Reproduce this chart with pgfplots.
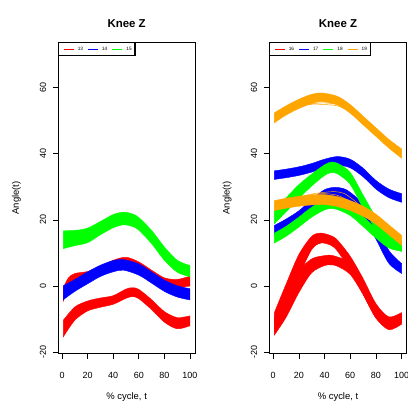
\documentclass[border=0pt]{standalone}
\usepackage{pgfplots}
\pgfplotsset{compat=1.18}
\usepgfplotslibrary{fillbetween}
\usepackage{fontspec}
\setmainfont{Liberation Sans}
\definecolor{cR}{HTML}{FF0000}
\definecolor{cB}{HTML}{0000FF}
\definecolor{cG}{HTML}{00FF00}
\definecolor{cO}{HTML}{FFA500}
\newcommand{\band}[4]{%
  \addplot[name path=#2U, draw=none, smooth, forget plot] coordinates {#3};
  \addplot[name path=#2L, draw=none, smooth, forget plot] coordinates {#4};
  \addplot[fill=#1, draw=#1, line width=0.4bp, forget plot] fill between[of=#2U and #2L];
}
\newcommand{\legline}[2]{%
  \addlegendimage{legend image code/.code={\path (-2bp,0bp) (12.5bp,0bp); \fill[fill=#1, draw=none] (0bp,-0.45bp) rectangle (10bp,0.45bp);}}
  \addlegendentry{#2}
}
\pgfplotsset{
  kneeaxis/.style={
    scale only axis, width=136.7bp, height=311bp,
    xmin=-2.96, xmax=103.96, ymin=-20.3, ymax=73.6,
    xtick={0,20,40,60,80,100}, ytick={-20,0,20,40,60},
    tick pos=left,
    tick align=outside, major tick length=5.5bp,
    axis line style={line width=0.8bp},
    every tick/.style={black, line width=0.6bp},
    /pgf/number format/assume math mode=true,
    tick label style={font=\fontsize{9}{10}\selectfont},
    xticklabel style={anchor=north, inner sep=0pt},
    yticklabel style={rotate=90, anchor=south, inner sep=0pt},
    xticklabel shift=13.5bp, yticklabel shift=6.5bp,
    label style={font=\fontsize{9.5}{11}\selectfont},
    xlabel={\% cycle, t}, ylabel={Angle(t)},
    xlabel style={at={(axis description cs:0.5,-0.148)}, anchor=base},
    ylabel style={at={(axis description cs:-0.288,0.5)}, anchor=base},
    title={Knee Z},
    every axis title shift=0pt,
    title style={at={(axis description cs:0.5,1.048)}, anchor=base, yshift=0pt, font=\fontsize{11.5}{13}\selectfont\bfseries},
    legend columns=-1,
    legend style={at={(0,1)}, anchor=north west, draw=black, line width=1.1bp, fill=white,
      inner xsep=2.4bp, inner ysep=3bp, font=\fontsize{4.75}{5.5}\selectfont,
      nodes={inner sep=1bp},
      /tikz/every even column/.append style={column sep=1.4bp}},
  }
}
\begin{document}
\begin{tikzpicture}
% ---------------- left panel ----------------
\begin{axis}[kneeaxis, at={(58.3bp,53.7bp)}, anchor=south west]
\legline{cR}{13}
\legline{cB}{14}
\legline{cG}{15}
% subject 13 (red), two bands
\band{cR}{lra}{(1,-0.5)(5,2.5)(10,3.8)(20,4.4)(30,5.8)(40,7.8)(50,8.7)(60,7.3)(70,4.8)(80,2.5)(90,2.0)(100,3.0)}
             {(1,-4.5)(5,-0.8)(10,1.3)(20,2.0)(30,3.3)(40,5.2)(50,6.2)(60,4.7)(70,2.2)(80,0.1)(90,-0.4)(100,0.0)}
\band{cR}{lrb}{(1,-10.3)(10,-6.3)(20,-4.5)(30,-3.6)(40,-2.9)(50,-0.9)(55,-0.5)(60,-1.0)(70,-4.1)(80,-7.7)(90,-9.5)(100,-9.0)}
             {(1,-15.3)(10,-10.3)(20,-7.5)(30,-6.4)(40,-5.5)(50,-3.7)(55,-3.2)(60,-3.8)(70,-7.1)(80,-10.9)(90,-12.9)(100,-12.0)}
% subject 14 (blue)
\band{cB}{lba}{(1,0.1)(10,2.0)(20,4.3)(30,6.3)(40,7.7)(48,8.0)(60,6.7)(70,4.3)(80,1.8)(90,0.1)(100,-0.8)}
             {(1,-4.1)(10,-1.6)(20,0.7)(30,2.9)(40,4.3)(48,4.8)(60,3.3)(70,0.9)(80,-1.6)(90,-3.3)(100,-4.2)}
% subject 15 (green)
\band{cG}{lga}{(1,16.7)(10,16.8)(20,17.5)(30,19.5)(40,21.6)(48,22.3)(55,21.8)(60,20.7)(70,16.8)(80,11.8)(90,7.8)(100,6.2)}
             {(1,11.3)(10,12.2)(20,13.1)(30,15.5)(40,17.6)(48,18.5)(55,18.0)(60,16.9)(70,12.8)(80,7.8)(90,4.2)(100,2.8)}
\end{axis}
% ---------------- right panel ----------------
\begin{axis}[kneeaxis, at={(269.3bp,53.7bp)}, anchor=south west, width=137.4bp]
\legline{cR}{16}
\legline{cB}{17}
\legline{cG}{18}
\legline{cO}{19}
% subject 16 (red)
\band{cR}{rra}{(1,-8.0)(10,0.5)(20,9.5)(30,15.0)(37,16.0)(45,15.2)(50,13.9)(60,9.0)(70,2.3)(80,-5.3)(90,-9.3)(100,-8.0)}
             {(1,-14.0)(10,-6.3)(20,3.0)(30,11.0)(37,13.0)(45,12.3)(50,10.6)(60,4.8)(70,-2.5)(80,-9.7)(90,-12.9)(100,-11.0)}
\band{cR}{rrb}{(1,-9.5)(10,-3.0)(20,4.5)(30,8.2)(40,9.2)(45,9.3)(50,8.8)(60,7.0)(70,1.3)(80,-5.7)(90,-9.8)(100,-8.5)}
             {(1,-14.8)(10,-9.5)(20,-2.0)(30,4.0)(40,6.2)(45,6.4)(50,6.0)(60,3.5)(70,-2.5)(80,-9.5)(90,-13.2)(100,-11.5)}
\addplot[cR, line width=0.5bp, smooth, forget plot] coordinates {(1,-11)(10,-2.5)(20,6)(30,12)(40,13.8)(50,12)(60,7)(70,0.5)(80,-7)(90,-11)(100,-9.5)};
\addplot[cR, line width=0.5bp, smooth, forget plot] coordinates {(1,-11.5)(10,-3)(20,5.5)(30,11.5)(40,13.2)(50,11.6)(60,6.8)(70,0)(80,-7.5)(90,-11.5)(100,-10)};
% subject 17 (blue)
\band{cB}{rba}{(1,34.8)(10,35.3)(20,36.0)(30,37.0)(40,38.3)(50,39.1)(60,38.3)(70,35.6)(80,31.9)(90,29.3)(100,27.9)}
             {(1,32.2)(10,32.7)(20,33.4)(30,34.4)(40,35.7)(50,36.5)(60,35.7)(70,33.0)(80,29.3)(90,26.7)(100,25.3)}
\band{cB}{rbb}{(1,18.3)(10,20.2)(20,22.7)(30,26.1)(40,29.1)(48,29.8)(55,29.4)(60,28.3)(70,24.8)(80,18.8)(90,10.8)(100,6.8)}
             {(1,15.3)(10,17.2)(20,19.7)(30,23.1)(40,26.1)(48,26.8)(55,26.4)(60,25.1)(70,21.0)(80,14.2)(90,6.9)(100,3.8)}
% subject 18 (green)
\band{cG}{rga}{(1,22.8)(10,26.6)(20,30.6)(30,33.8)(40,36.6)(45,37.4)(50,37.1)(60,34.3)(70,27.5)(80,20.8)(90,16.0)(100,13.5)}
             {(1,18.8)(10,22.4)(20,26.4)(30,30.2)(40,33.4)(45,34.2)(50,33.9)(60,30.7)(70,23.5)(80,17.2)(90,13.0)(100,10.5)}
\band{cG}{rgb}{(1,16.0)(10,18.0)(20,20.8)(30,23.8)(40,26.0)(45,26.4)(50,26.1)(60,24.3)(70,21.0)(80,17.5)(90,14.5)(100,13.5)}
             {(1,13.0)(10,15.0)(20,17.8)(30,20.8)(40,23.0)(45,23.4)(50,23.1)(60,21.3)(70,18.0)(80,14.5)(90,11.5)(100,10.5)}
% subject 19 (orange)
\band{cO}{roa}{(1,52.3)(10,54.4)(20,56.4)(30,57.9)(38,58.3)(50,57.3)(60,54.8)(70,51.3)(80,47.8)(90,44.3)(100,41.4)}
             {(1,49.3)(10,51.6)(20,53.6)(30,55.1)(38,55.7)(50,54.7)(60,52.2)(70,48.7)(80,45.2)(90,41.7)(100,38.6)}
\band{cO}{rob}{(1,25.8)(10,26.5)(20,27.1)(30,27.5)(40,27.6)(50,27.0)(60,25.8)(70,24.1)(80,21.7)(90,18.5)(100,15.3)}
             {(1,22.8)(10,23.5)(20,24.1)(30,24.5)(40,24.6)(50,24.0)(60,22.8)(70,21.1)(80,18.7)(90,15.5)(100,12.3)}
\addplot[cO, line width=0.5bp, smooth, forget plot] coordinates {(1,50.3)(10,52.3)(20,54)(30,55)(40,55.3)(50,54.8)(60,53)(70,49.8)};
\addplot[cO, line width=0.5bp, smooth, forget plot] coordinates {(1,50.6)(10,52.6)(20,54.2)(30,54.9)(40,54.8)(50,54.4)(60,52.7)(70,49.6)};
\addplot[cO, line width=0.5bp, smooth, forget plot] coordinates {(1,24.2)(10,25.5)(20,26.8)(30,27.8)(40,28.3)(48,28.5)(55,28)(62,26.2)(70,23.5)};
\addplot[cO, line width=0.5bp, smooth, forget plot] coordinates {(1,24)(15,26)(30,27.6)(40,27.9)(50,27.4)(60,25.5)(70,22.8)};
\end{axis}
\pgfresetboundingbox
\path[use as bounding box] (0,0) rectangle (408bp,407bp);
\end{tikzpicture}
\end{document}
